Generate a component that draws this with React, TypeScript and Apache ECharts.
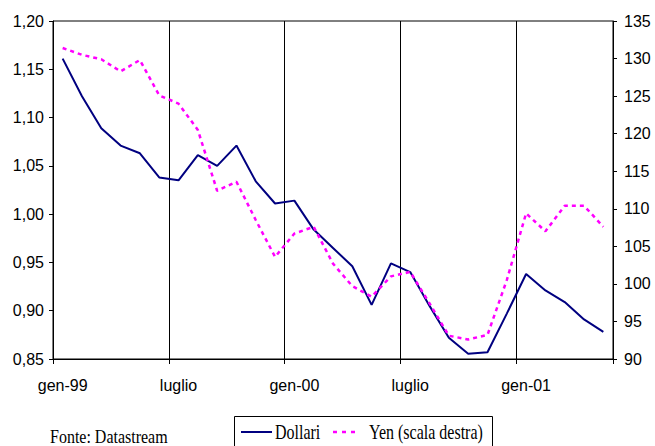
import React, { useEffect, useRef } from "react";
import * as echarts from "echarts";

// Monthly observations, January 1999 – May 2001
const months: string[] = [
  "gen-99", "feb-99", "mar-99", "apr-99", "mag-99", "giu-99",
  "luglio", "ago-99", "set-99", "ott-99", "nov-99", "dic-99",
  "gen-00", "feb-00", "mar-00", "apr-00", "mag-00", "giu-00",
  "luglio", "ago-00", "set-00", "ott-00", "nov-00", "dic-00",
  "gen-01", "feb-01", "mar-01", "apr-01", "mag-01",
];

// Euro exchange rate against the dollar (left scale)
const dollari: number[] = [
  1.161, 1.122, 1.089, 1.071, 1.063, 1.038, 1.035, 1.061, 1.05, 1.071,
  1.034, 1.011, 1.014, 0.984, 0.965, 0.946, 0.906, 0.949, 0.94, 0.905,
  0.872, 0.8555, 0.857, 0.897, 0.938, 0.921, 0.909, 0.891, 0.878,
];

// Euro exchange rate against the yen (right scale)
const yen: number[] = [
  131.4, 130.5, 129.9, 128.3, 129.8, 125.1, 124.0, 120.5, 112.4, 113.6,
  108.5, 103.6, 106.7, 107.6, 102.7, 99.7, 98.3, 101.0, 101.6, 97.4,
  93.1, 92.6, 93.2, 100.5, 109.4, 107.0, 110.4, 110.4, 107.6,
];

const leftTicks = { min: 0.85, max: 1.2, step: 0.05 };
const rightTicks = { min: 90, max: 135, step: 5 };

const seriesNames = ["Dollari", "Yen (scala destra)"];
const seriesColors = ["#000080", "#ff00ff"];
const sourceNote = "Fonte: Datastream";

const sans = "'Liberation Sans', Arial, sans-serif";
const serif = "'Liberation Serif', 'Times New Roman', serif";

export default function App() {
  const ref = useRef<HTMLDivElement>(null);

  useEffect(() => {
    if (!ref.current) return;
    const chart = echarts.init(ref.current, undefined, { renderer: "svg" });

    const serifText = (text: string, x: number, y: number, scaleY = 1.3) => ({
      type: "text",
      x,
      y,
      scaleY,
      style: {
        text,
        font: `16px ${serif}`,
        fill: "#000",
        textVerticalAlign: "middle",
      },
    });

    chart.setOption({
      animation: false,
      backgroundColor: "#ffffff",
      grid: {
        left: 53,
        right: 42,
        top: 21,
        bottom: 87,
        show: true,
        borderColor: "#000",
        borderWidth: 1,
        containLabel: false,
      },
      graphic: [
        // source note
        serifText(sourceNote, 50, 436, 1.2),
        // legend box
        {
          type: "rect",
          shape: { x: 234.5, y: 416.5, width: 258, height: 36 },
          style: { fill: "#fff", stroke: "#000", lineWidth: 1 },
        },
        {
          type: "line",
          shape: { x1: 241, y1: 432, x2: 272, y2: 432 },
          style: { stroke: seriesColors[0], lineWidth: 2 },
        },
        serifText(seriesNames[0], 275, 432),
        {
          type: "line",
          shape: { x1: 333, y1: 432, x2: 360, y2: 432 },
          style: { stroke: seriesColors[1], lineWidth: 2.5, lineDash: [4, 5] },
        },
        serifText(seriesNames[1], 369, 432),
      ],
      xAxis: {
        type: "category",
        data: months,
        boundaryGap: true,
        axisLine: { lineStyle: { color: "#000", width: 1 } },
        axisTick: { show: true, interval: 5, length: 5, lineStyle: { color: "#000" } },
        axisLabel: {
          interval: 5,
          margin: 18,
          fontFamily: sans,
          fontSize: 16,
          color: "#000",
        },
        splitLine: { show: true, interval: 5, lineStyle: { color: "#000", width: 1 } },
      },
      yAxis: [
        {
          type: "value",
          min: leftTicks.min,
          max: leftTicks.max,
          interval: leftTicks.step,
          axisLine: { show: true, lineStyle: { color: "#000" } },
          axisTick: { show: true, length: 4, lineStyle: { color: "#000" } },
          axisLabel: {
            margin: 9,
            fontFamily: sans,
            fontSize: 16,
            color: "#000",
            formatter: (v: number) => v.toFixed(2).replace(".", ","),
          },
          splitLine: { show: false },
        },
        {
          type: "value",
          position: "right",
          min: rightTicks.min,
          max: rightTicks.max,
          interval: rightTicks.step,
          axisLine: { show: true, lineStyle: { color: "#000" } },
          axisTick: { show: true, length: 4, lineStyle: { color: "#000" } },
          axisLabel: {
            margin: 11,
            fontFamily: sans,
            fontSize: 16,
            color: "#000",
          },
          splitLine: { show: false },
        },
      ],
      series: [
        {
          name: seriesNames[0],
          type: "line",
          yAxisIndex: 0,
          data: dollari,
          symbol: "none",
          lineStyle: { color: seriesColors[0], width: 2 },
        },
        {
          name: seriesNames[1],
          type: "line",
          yAxisIndex: 1,
          data: yen,
          symbol: "none",
          lineStyle: { color: seriesColors[1], width: 2.5, type: [4, 4] },
        },
      ],
    });
    return () => chart.dispose();
  }, []);

  return (
    <div
      ref={ref}
      style={{ position: "fixed", left: 0, top: 0, width: 655, height: 446, background: "#fff" }}
    />
  );
}
